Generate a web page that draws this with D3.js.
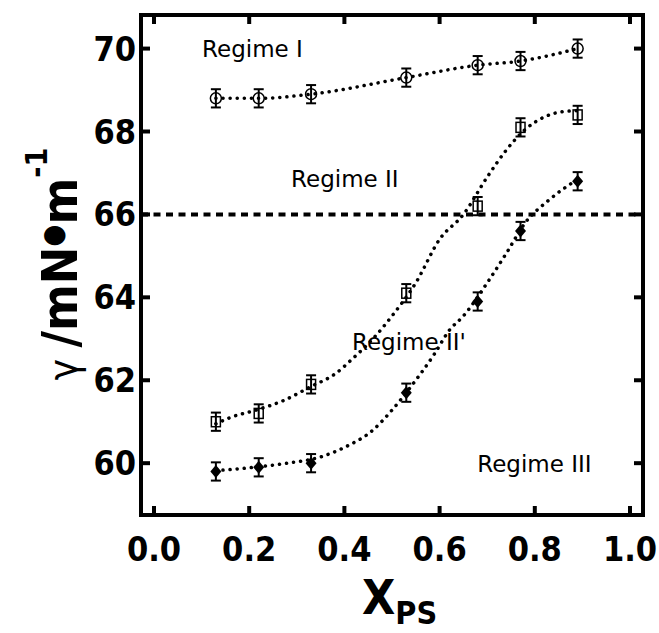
<!DOCTYPE html>
<html>
<head>
<meta charset="utf-8">
<script src="https://cdn.jsdelivr.net/npm/d3@7"></script>
<style>
  body { margin: 0; background: #fff; }
  text { font-family: "DejaVu Sans Condensed", "DejaVu Sans", sans-serif; font-stretch: condensed; }
  text.regime { font-family: "DejaVu Sans", sans-serif; font-stretch: normal; }
</style>
</head>
<body>
<script>
let width = 659,
    height = 633;

// composition values
let xPS = [0.13, 0.22, 0.33, 0.53, 0.68, 0.77, 0.89];
let regimeI = [68.8, 68.8, 68.9, 69.3, 69.6, 69.7, 70.0];
let squares = [61.0, 61.2, 61.9, 64.1, 66.2, 68.1, 68.4];
let diamonds = [59.8, 59.9, 60.0, 61.7, 63.9, 65.6, 66.8];
let errBar = 0.22;

// dotted fit curves
let fitSqX = [0.13, 0.16, 0.22, 0.27, 0.33, 0.38, 0.42, 0.46, 0.5, 0.55, 0.6, 0.65, 0.7, 0.74, 0.78, 0.82, 0.86, 0.89];
let fitSqY = [60.95, 61.1, 61.3, 61.5, 61.85, 62.15, 62.55, 63.0, 63.55, 64.35, 65.4, 66.0, 66.9, 67.55, 68.05, 68.35, 68.48, 68.5];
let fitDiX = [0.13, 0.21, 0.28, 0.35, 0.4, 0.46, 0.5, 0.54, 0.59, 0.62, 0.65, 0.7, 0.74, 0.78, 0.83, 0.89];
let fitDiY = [59.82, 59.9, 60.0, 60.15, 60.38, 60.8, 61.28, 61.85, 62.65, 63.2, 63.55, 64.35, 65.06, 65.8, 66.35, 66.85];

let xTicks = [0.0, 0.2, 0.4, 0.6, 0.8, 1.0];
let yTicks = [60, 62, 64, 66, 68, 70];
let boundary = 66;

let regimeLabels = ["Regime I", "Regime II", "Regime II'", "Regime III"];
let regimeX = [0.101, 0.288, 0.416, 0.679];
let regimeY = [69.8, 66.66, 62.73, 59.78];

let pLeft = 141, pRight = 643, pTop = 15, pBottom = 515;

let x = d3.scaleLinear().domain([-0.0273, 1.0273]).range([pLeft, pRight]);
let y = d3.scaleLinear().domain([58.75, 70.81]).range([pBottom, pTop]);

let svg = d3.select("body").append("svg")
    .attr("width", width)
    .attr("height", height);

// ticks (inside, all four sides)
let ax = svg.append("g").attr("stroke", "#000").attr("stroke-width", 4);
ax.selectAll(".xtb").data(xTicks).enter().append("line")
    .attr("x1", d => x(d)).attr("x2", d => x(d))
    .attr("y1", pBottom).attr("y2", pBottom - 9);
ax.selectAll(".xtt").data(xTicks).enter().append("line")
    .attr("x1", d => x(d)).attr("x2", d => x(d))
    .attr("y1", pTop).attr("y2", pTop + 9);
ax.selectAll(".ytl").data(yTicks).enter().append("line")
    .attr("x1", pLeft).attr("x2", pLeft + 9)
    .attr("y1", d => y(d)).attr("y2", d => y(d));
ax.selectAll(".ytr").data(yTicks).enter().append("line")
    .attr("x1", pRight).attr("x2", pRight - 9)
    .attr("y1", d => y(d)).attr("y2", d => y(d));

svg.append("rect")
    .attr("x", pLeft).attr("y", pTop)
    .attr("width", pRight - pLeft).attr("height", pBottom - pTop)
    .attr("fill", "none").attr("stroke", "#000").attr("stroke-width", 4);

// tick labels
svg.selectAll(".xl").data(xTicks).enter().append("text")
    .attr("x", d => x(d)).attr("y", 561)
    .attr("text-anchor", "middle")
    .attr("font-size", 34).attr("font-weight", "bold")
    .text(d => d.toFixed(1));
svg.selectAll(".yl").data(yTicks).enter().append("text")
    .attr("x", 136).attr("y", d => y(d) + 12)
    .attr("text-anchor", "end")
    .attr("font-size", 34).attr("font-weight", "bold")
    .text(d => d);

// axis titles
let xt = svg.append("text").attr("x", 362).attr("y", 614)
    .attr("font-weight", "bold");
xt.append("tspan").attr("font-size", 48).text("X");
xt.append("tspan").attr("font-size", 32).attr("dy", 10).text("PS");

let yt = svg.append("text")
    .attr("transform", "translate(77,264) rotate(-90)")
    .attr("text-anchor", "middle")
    .attr("font-weight", "bold");
yt.append("tspan").attr("font-size", 40).attr("font-weight", "normal").text("γ ");
yt.append("tspan").attr("font-size", 50).text("/mN");
yt.append("tspan").attr("font-size", 28).attr("dy", -15).text("●");
yt.append("tspan").attr("font-size", 50).attr("dy", 15).text("m");
yt.append("tspan").attr("font-size", 30).attr("dy", -30).text("-1");

// regime boundary
svg.append("line")
    .attr("x1", pLeft).attr("x2", pRight)
    .attr("y1", y(boundary)).attr("y2", y(boundary))
    .attr("stroke", "#000").attr("stroke-width", 4)
    .attr("stroke-dasharray", "7,5.5");

// regime labels
svg.selectAll(".rl").data(regimeLabels).enter().append("text")
    .attr("class", "regime")
    .attr("x", (d, i) => x(regimeX[i]))
    .attr("y", (d, i) => y(regimeY[i]))
    .attr("font-size", 23)
    .text(d => d);

// fit curves
let line = d3.line().curve(d3.curveMonotoneX);
function dotted(xs, ys) {
    svg.append("path")
        .attr("d", line(xs.map((v, i) => [x(v), y(ys[i])])))
        .attr("fill", "none").attr("stroke", "#000")
        .attr("stroke-width", 3.5).attr("stroke-linecap", "round")
        .attr("stroke-dasharray", "0.1,7");
}
dotted(xPS, regimeI);
dotted(fitSqX, fitSqY);
dotted(fitDiX, fitDiY);

// error bars
function errors(vals) {
    let g = svg.append("g").attr("stroke", "#000").attr("stroke-width", 2);
    g.selectAll("line.v").data(vals).enter().append("line")
        .attr("x1", (d, i) => x(xPS[i])).attr("x2", (d, i) => x(xPS[i]))
        .attr("y1", d => y(d - errBar)).attr("y2", d => y(d + errBar));
    [-1, 1].forEach(s => {
        g.selectAll("line.c" + s).data(vals).enter().append("line")
            .attr("x1", (d, i) => x(xPS[i]) - 5).attr("x2", (d, i) => x(xPS[i]) + 5)
            .attr("y1", d => y(d + s * errBar)).attr("y2", d => y(d + s * errBar));
    });
}
errors(regimeI);
errors(squares);
errors(diamonds);

// markers
svg.selectAll(".circ").data(regimeI).enter().append("circle")
    .attr("cx", (d, i) => x(xPS[i])).attr("cy", d => y(d))
    .attr("r", 5.5).attr("fill", "none")
    .attr("stroke", "#000").attr("stroke-width", 1.5);
svg.selectAll(".sq").data(squares).enter().append("rect")
    .attr("x", (d, i) => x(xPS[i]) - 4.5).attr("y", d => y(d) - 5)
    .attr("width", 9).attr("height", 10).attr("fill", "none")
    .attr("stroke", "#000").attr("stroke-width", 1.5);
svg.selectAll(".dia").data(diamonds).enter().append("path")
    .attr("transform", (d, i) => "translate(" + x(xPS[i]) + "," + y(d) + ")")
    .attr("d", "M0,-6.5L5.5,0L0,6.5L-5.5,0Z")
    .attr("fill", "#000");
</script>
</body>
</html>
